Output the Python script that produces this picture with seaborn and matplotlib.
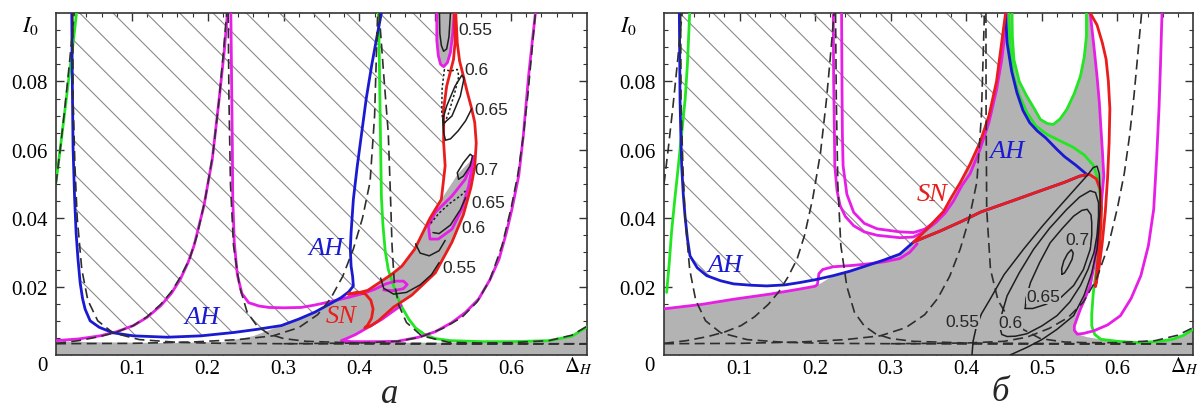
import numpy as np
import matplotlib
matplotlib.use("Agg")
import matplotlib.pyplot as plt
import seaborn as sns

# All curves are (Delta_H, I0) points.

# ---- tick labels ----
xticks = [0.1, 0.2, 0.3, 0.4, 0.5, 0.6]
xtick_labels = ["0.1", "0.2", "0.3", "0.4", "0.5", "0.6"]
yticks = [0.02, 0.04, 0.06, 0.08]
ytick_labels = ["0.02", "0.04", "0.06", "0.08"]

# ---- dashed resonance tongues (same in both panels) ----
dash_t0 = [(0.0, 0.050), (0.006, 0.061), (0.012, 0.073), (0.018, 0.086), (0.024, 0.100)]
dash_t1_left = [(0.022, 0.100), (0.0225, 0.075), (0.025, 0.055), (0.028, 0.040), (0.034, 0.025),
                (0.042, 0.016), (0.055, 0.010), (0.075, 0.0065), (0.11, 0.0045), (0.16, 0.0037),
                (0.22, 0.0034), (0.30, 0.0033), (0.45, 0.0032), (0.70, 0.0032)]
dash_t1_right = [(0.0, 0.0034), (0.03, 0.0042), (0.058, 0.0054), (0.08, 0.0067), (0.102, 0.0086),
                 (0.12, 0.0112), (0.138, 0.0148), (0.152, 0.0185), (0.164, 0.0228), (0.176, 0.028),
                 (0.186, 0.035), (0.197, 0.046), (0.207, 0.059), (0.215, 0.0747), (0.221, 0.0893),
                 (0.225, 0.100)]
dash_t2_left = [(0.227, 0.100), (0.228, 0.075), (0.230, 0.050), (0.234, 0.032), (0.242, 0.020),
                (0.252, 0.0125), (0.265, 0.0085), (0.28, 0.0062), (0.30, 0.0048), (0.33, 0.0040),
                (0.40, 0.0035), (0.55, 0.0033), (0.70, 0.0033)]
dash_t2_right = [(0.0, 0.0033), (0.10, 0.0034), (0.18, 0.0038), (0.24, 0.0045), (0.286, 0.0056),
                 (0.32, 0.0080), (0.345, 0.0118), (0.362, 0.0165), (0.378, 0.0230), (0.392, 0.031),
                 (0.404, 0.040), (0.414, 0.0506), (0.420, 0.070), (0.424, 0.100)]
dash_t3_right = [(0.30, 0.0033), (0.40, 0.0035), (0.45, 0.0040), (0.48, 0.0052), (0.51, 0.0078),
                 (0.535, 0.011), (0.555, 0.0155), (0.572, 0.022), (0.588, 0.032), (0.600, 0.043),
                 (0.609, 0.053), (0.616, 0.064), (0.622, 0.076), (0.627, 0.088), (0.632, 0.100)]
dash_t3_left_a = [(0.426, 0.100), (0.432, 0.082), (0.438, 0.065), (0.441, 0.046), (0.443, 0.032),
                  (0.446, 0.021), (0.452, 0.0145), (0.462, 0.0095), (0.482, 0.0056), (0.518, 0.0037),
                  (0.56, 0.0035), (0.60, 0.0036), (0.65, 0.0042), (0.68, 0.0058), (0.70, 0.0084)]
dash_t3_left_b = [(0.426, 0.100), (0.4262, 0.072), (0.427, 0.0426), (0.432, 0.025), (0.442, 0.016),
                  (0.454, 0.0115), (0.475, 0.0075), (0.498, 0.0048), (0.53, 0.0038), (0.56, 0.0036),
                  (0.60, 0.0036), (0.65, 0.0042), (0.68, 0.0058), (0.70, 0.0080)]

# ---- panel a ----
gray_a = [(0.0, 0.0), (0.0, 0.0040), (0.06, 0.0037), (0.15, 0.0035), (0.22, 0.0038), (0.26, 0.0055),
          (0.297, 0.0086), (0.341, 0.0125), (0.376, 0.0168), (0.395, 0.0180), (0.411, 0.0189),
          (0.442, 0.0235), (0.456, 0.026), (0.473, 0.031), (0.493, 0.040), (0.508, 0.0455),
          (0.53, 0.053), (0.552, 0.058), (0.547, 0.049), (0.537, 0.041), (0.522, 0.033),
          (0.50, 0.024), (0.469, 0.0175), (0.455, 0.0150), (0.4425, 0.0125), (0.43, 0.0105),
          (0.4115, 0.0081), (0.395, 0.0060), (0.384, 0.0049), (0.376, 0.0042), (0.42, 0.0036),
          (0.50, 0.0036), (0.56, 0.0037), (0.65, 0.0042), (0.68, 0.0055), (0.70, 0.0084), (0.70, 0.0)]
gray_a_top = [(0.502, 0.100), (0.502, 0.092), (0.504, 0.0875), (0.507, 0.085), (0.511, 0.0843),
              (0.516, 0.0855), (0.520, 0.0885), (0.524, 0.094), (0.526, 0.100)]
hatch_a = [(0.0208, 0.100), (0.0225, 0.0605), (0.0265, 0.0357), (0.0318, 0.0212), (0.0384, 0.0134),
           (0.057, 0.0081), (0.102, 0.0056), (0.147, 0.0052), (0.191, 0.0056), (0.235, 0.0066),
           (0.297, 0.0086), (0.341, 0.0125), (0.376, 0.0168), (0.395, 0.0180), (0.411, 0.0189),
           (0.442, 0.0235), (0.456, 0.026), (0.473, 0.031), (0.493, 0.040), (0.508, 0.0455),
           (0.513, 0.0553), (0.511, 0.0621), (0.511, 0.0718), (0.515, 0.0786), (0.509, 0.082),
           (0.504, 0.0875), (0.502, 0.092), (0.502, 0.100)]

blue_a = [(0.0208, 0.100), (0.0215, 0.080), (0.0225, 0.0605), (0.0245, 0.046), (0.0265, 0.0357),
          (0.029, 0.028), (0.0318, 0.0212), (0.035, 0.0165), (0.0384, 0.0134), (0.045, 0.0100),
          (0.057, 0.0081), (0.075, 0.0065), (0.102, 0.0056), (0.147, 0.0052), (0.191, 0.0056),
          (0.235, 0.0066), (0.265, 0.0075), (0.297, 0.0086), (0.32, 0.0105), (0.341, 0.0125),
          (0.36, 0.0148), (0.376, 0.0168), (0.386, 0.0185), (0.392, 0.0202), (0.391, 0.023),
          (0.389, 0.026), (0.388, 0.031), (0.389, 0.0358), (0.392, 0.0455), (0.397, 0.055),
          (0.403, 0.065), (0.409, 0.075), (0.416, 0.0845), (0.423, 0.093), (0.429, 0.100)]
red_a = [(0.525, 0.100), (0.526, 0.0913), (0.524, 0.0864), (0.515, 0.0786), (0.511, 0.0718),
         (0.511, 0.0621), (0.513, 0.0553), (0.508, 0.0455), (0.493, 0.040), (0.473, 0.031),
         (0.456, 0.026), (0.442, 0.0235), (0.411, 0.0189), (0.395, 0.0180), (0.385, 0.0178),
         (0.398, 0.0184), (0.408, 0.0178), (0.415, 0.0160), (0.418, 0.0135), (0.416, 0.0108),
         (0.411, 0.0088), (0.407, 0.0079), (0.415, 0.0085), (0.425, 0.0100), (0.435, 0.0120),
         (0.445, 0.0140), (0.469, 0.0175), (0.50, 0.024), (0.522, 0.033), (0.537, 0.041),
         (0.547, 0.049), (0.552, 0.055), (0.554, 0.062), (0.552, 0.068), (0.548, 0.072),
         (0.542, 0.077), (0.537, 0.0816), (0.532, 0.086), (0.529, 0.0913), (0.527, 0.100)]
magenta_a1 = [(0.0, 0.0042), (0.03, 0.0047), (0.058, 0.0056), (0.08, 0.0068), (0.102, 0.0086),
              (0.12, 0.011), (0.138, 0.0144), (0.152, 0.018), (0.164, 0.0222), (0.174, 0.027),
              (0.182, 0.032), (0.195, 0.0436), (0.206, 0.0572), (0.215, 0.0747), (0.222, 0.0893),
              (0.226, 0.100)]
magenta_a2 = [(0.2305, 0.100), (0.2315, 0.080), (0.2325, 0.060), (0.233, 0.0456), (0.235, 0.033),
              (0.239, 0.0235), (0.245, 0.0180), (0.254, 0.0153), (0.268, 0.0143), (0.281, 0.0139),
              (0.30, 0.0138), (0.323, 0.0139), (0.341, 0.0146), (0.36, 0.0155), (0.385, 0.0168),
              (0.405, 0.0180), (0.42, 0.0192), (0.435, 0.0208), (0.448, 0.0216), (0.458, 0.0216),
              (0.463, 0.0206), (0.458, 0.0194), (0.445, 0.0188), (0.432, 0.0190)]
magenta_a3 = [(0.455, 0.0145), (0.4425, 0.0125), (0.43, 0.0105), (0.4115, 0.0081), (0.395, 0.0060),
              (0.384, 0.0049), (0.376, 0.0042), (0.39, 0.0039), (0.42, 0.0039), (0.45, 0.0040),
              (0.478, 0.0052), (0.50, 0.0068), (0.522, 0.0095), (0.54, 0.0125), (0.557, 0.0163),
              (0.572, 0.022), (0.584, 0.028), (0.594, 0.036), (0.601, 0.0426), (0.610, 0.0524),
              (0.616, 0.064), (0.623, 0.0816), (0.628, 0.092), (0.632, 0.100)]
magenta_a4 = [(0.502, 0.100), (0.502, 0.092), (0.504, 0.0875), (0.507, 0.085), (0.511, 0.0843),
              (0.516, 0.0855), (0.520, 0.0885), (0.523, 0.094), (0.525, 0.100)]
magenta_a5 = [(0.551, 0.058), (0.5395, 0.0514), (0.522, 0.0465), (0.500, 0.0417), (0.491, 0.0377),
              (0.493, 0.0339), (0.504, 0.0339), (0.522, 0.0368), (0.535, 0.0426), (0.544, 0.0494),
              (0.551, 0.058)]
green_a1 = [(0.0, 0.0505), (0.006, 0.061), (0.012, 0.072), (0.018, 0.083), (0.023, 0.092), (0.027, 0.100)]
green_a2 = [(0.425, 0.100), (0.426, 0.090), (0.427, 0.0747), (0.428, 0.060), (0.429, 0.046),
            (0.431, 0.038), (0.434, 0.0304), (0.438, 0.025), (0.443, 0.0216), (0.449, 0.0175),
            (0.456, 0.014), (0.465, 0.0105), (0.474, 0.0079), (0.486, 0.0060), (0.500, 0.0048),
            (0.52, 0.0042), (0.562, 0.0039), (0.60, 0.0039), (0.650, 0.0042), (0.68, 0.0055),
            (0.703, 0.0086)]
contours_a_solid = [
    [(0.5055, 0.100), (0.506, 0.094), (0.508, 0.0905), (0.511, 0.0888), (0.515, 0.0895), (0.518, 0.093), (0.520, 0.100)],
    [(0.511, 0.0677), (0.522, 0.0699), (0.533, 0.0757), (0.538, 0.081), (0.535, 0.0818), (0.526, 0.0786),
     (0.515, 0.0728), (0.510, 0.069), (0.511, 0.0677)],
    [(0.510, 0.069), (0.511, 0.065), (0.5135, 0.0628), (0.520, 0.0632), (0.530, 0.0655), (0.540, 0.0685), (0.548, 0.072)],
    [(0.5307, 0.0514), (0.529, 0.0533), (0.537, 0.0562), (0.546, 0.0587), (0.549, 0.0582), (0.546, 0.0553),
     (0.537, 0.0523), (0.5307, 0.0514)],
    [(0.497, 0.0358), (0.505, 0.0355), (0.52, 0.038), (0.533, 0.0425), (0.54, 0.046)],
    [(0.474, 0.0325), (0.48, 0.0298), (0.492, 0.0290), (0.505, 0.0305), (0.513, 0.0335)],
    [(0.428, 0.0225), (0.432, 0.0195), (0.445, 0.0178), (0.462, 0.0183), (0.48, 0.0205), (0.495, 0.0235), (0.505, 0.027)],
]
contours_a_dotted = [
    [(0.512, 0.0835), (0.509, 0.078), (0.5085, 0.071), (0.511, 0.067), (0.518, 0.071), (0.526, 0.077),
     (0.531, 0.0815), (0.529, 0.0835), (0.52, 0.0830), (0.512, 0.0835)],
    [(0.494, 0.0385), (0.505, 0.0415), (0.52, 0.0445), (0.533, 0.0465), (0.54, 0.048)],
]
labels_a = [("0.55", 0.531, 0.0952), ("0.6", 0.539, 0.0835), ("0.65", 0.551, 0.0718), ("0.7", 0.551, 0.0543),
            ("0.65", 0.548, 0.0447), ("0.6", 0.535, 0.0374), ("0.55", 0.509, 0.0257)]
names_a = [("AH", 0.192, 0.0112, "blue"), ("AH", 0.356, 0.0312, "blue"), ("SN", 0.376, 0.0115, "red")]

# ---- panel б ----
gray_b = [(0.0, 0.0), (0.0, 0.0135), (0.05, 0.0148), (0.092, 0.0163), (0.14, 0.0178), (0.18, 0.0193),
          (0.202, 0.0202), (0.224, 0.0232), (0.268, 0.0261), (0.312, 0.0295), (0.33, 0.0330),
          (0.342, 0.0355), (0.355, 0.0385), (0.37, 0.0420), (0.38, 0.0460), (0.392, 0.0504),
          (0.405, 0.0558), (0.418, 0.0621), (0.43, 0.0700), (0.44, 0.0800), (0.446, 0.0900),
          (0.452, 0.100), (0.4605, 0.100), (0.461, 0.093), (0.463, 0.0864), (0.47, 0.080),
          (0.48, 0.0757), (0.49, 0.072), (0.498, 0.0689), (0.507, 0.0677), (0.515, 0.0674),
          (0.524, 0.069), (0.533, 0.0718), (0.543, 0.0765), (0.551, 0.0815), (0.556, 0.087),
          (0.559, 0.0932), (0.559, 0.100), (0.564, 0.100), (0.566, 0.096), (0.569, 0.090),
          (0.573, 0.0815), (0.576, 0.074), (0.578, 0.0669), (0.580, 0.060), (0.582, 0.0523),
          (0.579, 0.045), (0.576, 0.038), (0.573, 0.0329), (0.569, 0.026), (0.564, 0.0203),
          (0.558, 0.017), (0.551, 0.0134), (0.547, 0.011), (0.543, 0.0085), (0.543, 0.0072),
          (0.547, 0.0061), (0.56, 0.0052), (0.578, 0.0046), (0.60, 0.0040), (0.629, 0.0036),
          (0.655, 0.0040), (0.673, 0.0046), (0.688, 0.0058), (0.70, 0.0075), (0.70, 0.0)]
hatch_b = [(0.0203, 0.100), (0.0212, 0.0748), (0.0234, 0.0553), (0.0278, 0.0407), (0.0344, 0.029),
           (0.0565, 0.0232), (0.092, 0.0208), (0.136, 0.0202), (0.18, 0.0212), (0.203, 0.0220),
           (0.205, 0.0245), (0.224, 0.0260), (0.268, 0.0267), (0.312, 0.0285), (0.33, 0.0330),
           (0.342, 0.0355), (0.355, 0.0385), (0.37, 0.0420), (0.38, 0.0460), (0.392, 0.0504),
           (0.405, 0.0558), (0.418, 0.0621), (0.43, 0.0700), (0.44, 0.0800), (0.446, 0.0900),
           (0.452, 0.100)]

blue_b = [(0.0203, 0.100), (0.0208, 0.087), (0.0212, 0.0748), (0.0222, 0.065), (0.0234, 0.0553),
          (0.0255, 0.047), (0.0278, 0.0407), (0.031, 0.034), (0.0344, 0.029), (0.044, 0.0255),
          (0.0565, 0.0232), (0.075, 0.0217), (0.092, 0.0208), (0.115, 0.0204), (0.136, 0.0202),
          (0.16, 0.0205), (0.18, 0.0212), (0.20, 0.0220), (0.224, 0.0232), (0.246, 0.0245),
          (0.268, 0.0261), (0.29, 0.0277), (0.312, 0.0295), (0.33, 0.0330), (0.345, 0.0344),
          (0.366, 0.0363), (0.395, 0.0392), (0.419, 0.0418), (0.46, 0.0450), (0.498, 0.048),
          (0.53, 0.0505), (0.55, 0.0523), (0.56, 0.0527), (0.545, 0.0555), (0.53, 0.058),
          (0.52, 0.0601), (0.505, 0.0635), (0.494, 0.0655), (0.484, 0.0679), (0.475, 0.0715),
          (0.467, 0.0767), (0.460, 0.083), (0.454, 0.0913), (0.452, 0.100)]
red_b = [(0.452, 0.100), (0.449, 0.095), (0.446, 0.090), (0.44, 0.080), (0.43, 0.070), (0.418, 0.0621),
         (0.405, 0.0558), (0.392, 0.0504), (0.38, 0.0460), (0.37, 0.0420), (0.355, 0.0385),
         (0.342, 0.0355), (0.33, 0.0330), (0.345, 0.0344), (0.366, 0.0363), (0.395, 0.0392),
         (0.419, 0.0418), (0.46, 0.0450), (0.498, 0.048), (0.53, 0.0505), (0.55, 0.0523),
         (0.563, 0.0528), (0.572, 0.0515), (0.577, 0.0485), (0.579, 0.043), (0.578, 0.0377),
         (0.575, 0.030), (0.571, 0.020), (0.576, 0.026), (0.580, 0.033), (0.584, 0.042),
         (0.587, 0.052), (0.589, 0.062), (0.590, 0.072), (0.588, 0.080), (0.585, 0.0865),
         (0.580, 0.0913), (0.573, 0.0965), (0.564, 0.100)]
magenta_b1 = [(0.0, 0.0135), (0.05, 0.0148), (0.092, 0.0163), (0.14, 0.0178), (0.18, 0.0193),
              (0.200, 0.0201), (0.203, 0.0206), (0.204, 0.0222), (0.205, 0.0238), (0.210, 0.0250),
              (0.224, 0.0258), (0.25, 0.0262), (0.268, 0.0266), (0.29, 0.0272), (0.312, 0.0282),
              (0.325, 0.0300), (0.335, 0.0325)]
magenta_b2 = [(0.224, 0.100), (0.2245, 0.080), (0.2255, 0.065), (0.226, 0.0553), (0.229, 0.048),
              (0.233, 0.0437), (0.240, 0.0405), (0.251, 0.0378), (0.265, 0.0360), (0.282, 0.0350),
              (0.312, 0.0343), (0.33, 0.0345), (0.345, 0.0362), (0.36, 0.0388), (0.372, 0.0415),
              (0.383, 0.045), (0.394, 0.0495), (0.405, 0.0530), (0.418, 0.0600), (0.430, 0.0680),
              (0.440, 0.0775), (0.447, 0.0864), (0.451, 0.094), (0.453, 0.100)]
magenta_b3 = [(0.235, 0.100), (0.2355, 0.080), (0.236, 0.065), (0.237, 0.0553), (0.242, 0.047),
              (0.251, 0.0417), (0.265, 0.0385), (0.282, 0.0369), (0.312, 0.0360), (0.33, 0.0358),
              (0.345, 0.0368), (0.36, 0.0392)]
magenta_b4 = [(0.659, 0.100), (0.657, 0.085), (0.655, 0.072), (0.652, 0.058), (0.648, 0.0426),
              (0.641, 0.032), (0.631, 0.0232), (0.618, 0.0165), (0.604, 0.0115), (0.587, 0.0088),
              (0.569, 0.0071), (0.555, 0.0063), (0.547, 0.0061), (0.543, 0.0072), (0.543, 0.0085),
              (0.547, 0.011), (0.551, 0.0134), (0.558, 0.017), (0.564, 0.0203), (0.569, 0.026),
              (0.573, 0.0329), (0.576, 0.038), (0.579, 0.045), (0.582, 0.0523), (0.580, 0.060),
              (0.578, 0.0669), (0.576, 0.074), (0.573, 0.0815), (0.569, 0.090), (0.566, 0.096),
              (0.564, 0.100)]
green_b1 = [(0.0035, 0.0183), (0.007, 0.027), (0.010, 0.036), (0.0145, 0.046), (0.019, 0.0553),
            (0.0235, 0.065), (0.028, 0.0748), (0.031, 0.085), (0.034, 0.100)]
green_b2 = [(0.4605, 0.100), (0.461, 0.093), (0.463, 0.0864), (0.47, 0.080), (0.48, 0.0757),
            (0.49, 0.072), (0.498, 0.0689), (0.507, 0.0677), (0.515, 0.0674), (0.524, 0.069),
            (0.533, 0.0718), (0.543, 0.0765), (0.551, 0.0815), (0.556, 0.087), (0.559, 0.0932),
            (0.559, 0.100)]
green_b3 = [(0.456, 0.100), (0.458, 0.090), (0.462, 0.082), (0.47, 0.076), (0.48, 0.071), (0.492, 0.067),
            (0.507, 0.0645), (0.525, 0.0625), (0.541, 0.0608), (0.556, 0.0585), (0.568, 0.0555),
            (0.575, 0.051), (0.578, 0.045), (0.578, 0.038), (0.576, 0.0328), (0.572, 0.025),
            (0.568, 0.018), (0.566, 0.012), (0.566, 0.0085), (0.570, 0.006), (0.578, 0.0046),
            (0.60, 0.0040), (0.629, 0.0036), (0.655, 0.0040), (0.673, 0.0046), (0.688, 0.0058),
            (0.70, 0.0075)]
contours_b = [
    [(0.5267, 0.0236), (0.5262, 0.0252), (0.529, 0.0275), (0.534, 0.0296), (0.539, 0.0308), (0.5415, 0.0298),
     (0.540, 0.0280), (0.535, 0.0258), (0.530, 0.0240), (0.5267, 0.0236)],
    [(0.478, 0.0136), (0.479, 0.0165), (0.485, 0.0212), (0.497, 0.027), (0.511, 0.0328), (0.527, 0.037),
     (0.542, 0.0406), (0.553, 0.0423), (0.560, 0.0426), (0.565, 0.041), (0.566, 0.0387), (0.566, 0.035),
     (0.564, 0.0309), (0.555, 0.025), (0.542, 0.0203), (0.525, 0.0168), (0.505, 0.0148), (0.488, 0.0136),
     (0.478, 0.0136)],
    [(0.445, 0.0076), (0.447, 0.012), (0.454, 0.0173), (0.47, 0.024), (0.489, 0.0309), (0.51, 0.037),
     (0.533, 0.0426), (0.55, 0.0462), (0.564, 0.048), (0.571, 0.0475), (0.575, 0.0445), (0.575, 0.0406),
     (0.573, 0.035), (0.569, 0.030), (0.561, 0.025), (0.551, 0.0203), (0.537, 0.0155), (0.52, 0.0115),
     (0.50, 0.0085), (0.48, 0.0062), (0.465, 0.0055), (0.454, 0.0054), (0.447, 0.006), (0.445, 0.0076)],
    [(0.4075, 0.0), (0.409, 0.004), (0.413, 0.008), (0.42, 0.012), (0.432, 0.0165), (0.45, 0.0235),
     (0.476, 0.031), (0.50, 0.0375), (0.52, 0.0426), (0.545, 0.0488), (0.56, 0.0525), (0.568, 0.0548),
     (0.573, 0.0552), (0.576, 0.053), (0.577, 0.048), (0.577, 0.0426), (0.575, 0.036), (0.573, 0.0309),
     (0.566, 0.024), (0.556, 0.0175), (0.542, 0.0115), (0.52, 0.0075), (0.50, 0.0045), (0.48, 0.0022),
     (0.458, 0.0)],
]
labels_b = [("0.55", 0.395, 0.0099), ("0.6", 0.458, 0.0096), ("0.65", 0.502, 0.0172), ("0.7", 0.547, 0.0339)]
names_b = [("AH", 0.081, 0.0262, "blue"), ("AH", 0.454, 0.0596, "blue"), ("SN", 0.355, 0.047, "red")]

# ---- style ----
sns.set_style("ticks")
plt.rcParams["font.family"] = ["Liberation Serif", "DejaVu Serif"]
plt.rcParams["mathtext.fontset"] = "stix"
plt.rcParams["hatch.linewidth"] = 0.8

COLORS = {"blue": "#1a1ad2", "red": "#ea1c1c", "magenta": "#e61ee6", "green": "#22e622"}
GRAY = "#b3b3b3"
HATCH = "#8a8a8a"
DASH = "#2e2e2e"


def draw(ax, pts, color, lw=2.0, z=3, dashes=None):
    pts = np.asarray(pts, dtype=float)
    sns.lineplot(x=pts[:, 0], y=pts[:, 1], sort=False, estimator=None,
                 color=color, linewidth=lw, zorder=z, ax=ax)
    line = ax.lines[-1]
    line.set_solid_joinstyle("round")
    line.set_solid_capstyle("round")
    if dashes is not None:
        line.set_dashes(dashes)


def region(ax, pts, hatch=False):
    pts = np.asarray(pts, dtype=float)
    if hatch:
        ax.fill(pts[:, 0], pts[:, 1], facecolor="none", edgecolor=HATCH, hatch="\\",
                linewidth=0, zorder=1.5)
    else:
        ax.fill(pts[:, 0], pts[:, 1], facecolor=GRAY, edgecolor="none", zorder=1)


def setup(ax, i0_x, zero_x):
    ax.set_xlim(0, 0.70)
    ax.set_ylim(0, 0.10)
    ax.set_xticks(xticks)
    ax.set_xticklabels(xtick_labels)
    ax.set_xticks(np.arange(0.02, 0.70, 0.02), minor=True)
    ax.set_yticks(yticks)
    ax.set_yticklabels(ytick_labels)
    ax.set_yticks(np.arange(0.005, 0.10, 0.005), minor=True)
    ax.tick_params(which="both", direction="in", top=True, right=True,
                   labelsize=15, color="#333333", labelcolor="black")
    ax.tick_params(which="major", length=6, width=1.0)
    ax.tick_params(which="minor", length=3, width=0.8)
    ax.tick_params(axis="x", which="major", pad=3)
    ax.tick_params(axis="y", which="major", pad=6)
    for s in ax.spines.values():
        s.set_linewidth(1.2)
        s.set_color("#333333")
    ax.set_xlabel("")
    ax.set_ylabel("")
    ax.text(zero_x, -0.03, "0", transform=ax.transAxes, ha="center", va="center",
            fontsize=15, color="black")
    ax.text(0.983, -0.032, r"$\Delta_H$", transform=ax.transAxes, ha="center", va="center",
            fontsize=15, color="black")
    ax.text(i0_x, 0.965, r"$I_0$", transform=ax.transAxes, ha="center", va="center",
            fontsize=16, color="black")


def tongues(ax, t3_left):
    for d in (dash_t0, dash_t1_left, dash_t1_right, dash_t2_left, dash_t2_right, dash_t3_right, t3_left):
        draw(ax, d, DASH, lw=1.2, z=4, dashes=(6, 3.2))


fig = plt.figure(figsize=(11.98, 4.10), dpi=100)
ax_a = fig.add_axes([56 / 1198, 54 / 410, 531 / 1198, 342 / 410])
ax_b = fig.add_axes([664 / 1198, 54 / 410, 529 / 1198, 342 / 410])

# panel a
region(ax_a, gray_a)
region(ax_a, gray_a_top)
region(ax_a, hatch_a, hatch=True)
for pts in (green_a1, green_a2):
    draw(ax_a, pts, COLORS["green"])
for pts in (magenta_a1, magenta_a2, magenta_a3, magenta_a4, magenta_a5):
    draw(ax_a, pts, COLORS["magenta"])
draw(ax_a, blue_a, COLORS["blue"])
draw(ax_a, red_a, COLORS["red"])
tongues(ax_a, dash_t3_left_a)
for pts in contours_a_solid:
    draw(ax_a, pts, "#1e1e1e", lw=1.1, z=4.5)
for pts in contours_a_dotted:
    draw(ax_a, pts, "#1e1e1e", lw=1.1, z=4.5, dashes=(1.5, 1.5))
for txt, x, y in labels_a:
    ax_a.text(x, y, txt, ha="left", va="center", fontsize=12.5, family="Liberation Sans", zorder=6)
for txt, x, y, c in names_a:
    ax_a.text(x, y, txt, ha="center", va="center", fontsize=19, style="italic",
              color=COLORS[c], zorder=6)
setup(ax_a, -0.049, -0.025)

# panel b
region(ax_b, gray_b)
region(ax_b, hatch_b, hatch=True)
for pts in (green_b1, green_b2, green_b3):
    draw(ax_b, pts, COLORS["green"])
for pts in (magenta_b1, magenta_b2, magenta_b3, magenta_b4):
    draw(ax_b, pts, COLORS["magenta"])
draw(ax_b, blue_b, COLORS["blue"])
draw(ax_b, red_b, COLORS["red"])
tongues(ax_b, dash_t3_left_b)
for pts in contours_b:
    draw(ax_b, pts, "#1e1e1e", lw=1.1, z=4.5)
for txt, x, y in labels_b:
    ax_b.text(x, y, txt, ha="center", va="center", fontsize=12.5, family="Liberation Sans", zorder=6,
              bbox=dict(facecolor=GRAY, edgecolor="none", pad=0.5))
for txt, x, y, c in names_b:
    ax_b.text(x, y, txt, ha="center", va="center", fontsize=19, style="italic",
              color=COLORS[c], zorder=6)
setup(ax_b, -0.068, -0.028)

fig.text(390 / 1198, 1 - 395 / 410, "а", ha="center", va="center", fontsize=25, style="italic")
fig.text(1000 / 1198, 1 - 393 / 410, "б", ha="center", va="center", fontsize=25, style="italic")

fig.savefig("out.png", dpi=100)
